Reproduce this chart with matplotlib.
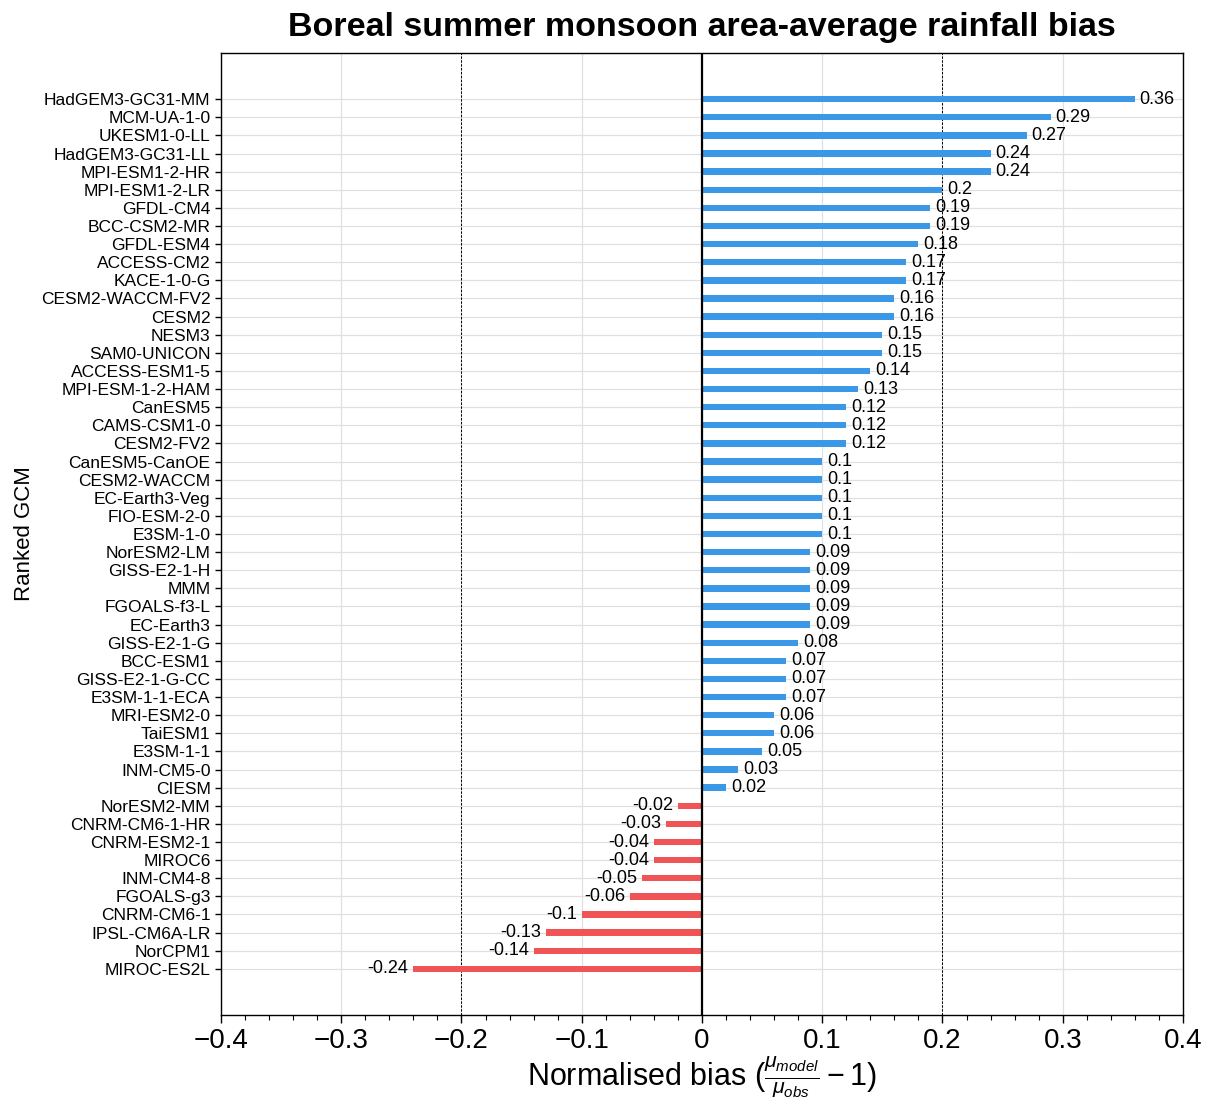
import numpy as np
import matplotlib
matplotlib.use('Agg')
import matplotlib.pyplot as plt
from matplotlib.ticker import MultipleLocator, FuncFormatter

# Model names, ranked from largest to smallest bias (top to bottom)
models = [
    'HadGEM3-GC31-MM', 'MCM-UA-1-0', 'UKESM1-0-LL', 'HadGEM3-GC31-LL',
    'MPI-ESM1-2-HR', 'MPI-ESM1-2-LR', 'GFDL-CM4', 'BCC-CSM2-MR', 'GFDL-ESM4',
    'ACCESS-CM2', 'KACE-1-0-G', 'CESM2-WACCM-FV2', 'CESM2', 'NESM3',
    'SAM0-UNICON', 'ACCESS-ESM1-5', 'MPI-ESM-1-2-HAM', 'CanESM5',
    'CAMS-CSM1-0', 'CESM2-FV2', 'CanESM5-CanOE', 'CESM2-WACCM',
    'EC-Earth3-Veg', 'FIO-ESM-2-0', 'E3SM-1-0', 'NorESM2-LM', 'GISS-E2-1-H',
    'MMM', 'FGOALS-f3-L', 'EC-Earth3', 'GISS-E2-1-G', 'BCC-ESM1',
    'GISS-E2-1-G-CC', 'E3SM-1-1-ECA', 'MRI-ESM2-0', 'TaiESM1', 'E3SM-1-1',
    'INM-CM5-0', 'CIESM', 'NorESM2-MM', 'CNRM-CM6-1-HR', 'CNRM-ESM2-1',
    'MIROC6', 'INM-CM4-8', 'FGOALS-g3', 'CNRM-CM6-1', 'IPSL-CM6A-LR',
    'NorCPM1', 'MIROC-ES2L',
]

# Normalised bias (mu_model / mu_obs - 1)
bias = [
    0.36, 0.29, 0.27, 0.24, 0.24, 0.20, 0.19, 0.19, 0.18, 0.17, 0.17,
    0.16, 0.16, 0.15, 0.15, 0.14, 0.13, 0.12, 0.12, 0.12, 0.10, 0.10,
    0.10, 0.10, 0.10, 0.09, 0.09, 0.09, 0.09, 0.09, 0.08, 0.07, 0.07,
    0.07, 0.06, 0.06, 0.05, 0.03, 0.02, -0.02, -0.03, -0.04, -0.04,
    -0.05, -0.06, -0.10, -0.13, -0.14, -0.24,
]

plt.rcParams['font.family'] = ['Liberation Sans', 'DejaVu Sans']
plt.rcParams['mathtext.fontset'] = 'custom'
plt.rcParams['mathtext.rm'] = 'Liberation Sans'
plt.rcParams['mathtext.it'] = 'Liberation Sans:italic'
plt.rcParams['mathtext.bf'] = 'Liberation Sans:bold'

pos_color = '#3a98e6'
neg_color = '#f05454'

n = len(models)
ypos = np.arange(n)[::-1]
colors = [pos_color if v > 0 else neg_color for v in bias]

fig = plt.figure(figsize=(12.07, 10.99), dpi=100)
ax = fig.add_axes([0.1831, 0.0764, 0.9801 - 0.1831, 0.9518 - 0.0764])

ax.barh(ypos, bias, height=0.35, color=colors, zorder=3)

# Value labels at the bar ends
for y, v in zip(ypos, bias):
    if v > 0:
        ax.text(v + 0.004, y, f'{v:g}', ha='left', va='center', fontsize=13, zorder=4)
    else:
        ax.text(v - 0.004, y, f'{v:g}', ha='right', va='center', fontsize=13, zorder=4)

# Reference lines
ax.axvline(0, color='black', linewidth=1.6, zorder=5)
ax.axvline(-0.2, color='black', linewidth=0.7, linestyle=(0, (2.5, 1.5)), zorder=2)
ax.axvline(0.2, color='black', linewidth=0.7, linestyle=(0, (2.5, 1.5)), zorder=2)

ax.set_xlim(-0.4, 0.4)
ax.set_ylim(-2.55, n - 1 + 2.55)
ax.set_yticks(ypos)
ax.set_yticklabels(models, fontsize=12.5)

ax.xaxis.set_major_locator(MultipleLocator(0.1))
ax.xaxis.set_minor_locator(MultipleLocator(0.02))
ax.xaxis.set_major_formatter(FuncFormatter(lambda x, p: f'{round(x, 2):g}'.replace('-', '\u2212')))
ax.tick_params(axis='x', which='major', labelsize=20, length=6, width=1)
ax.tick_params(axis='x', which='minor', length=3.5, width=0.8)
ax.tick_params(axis='y', length=4, width=1)

ax.grid(True, which='major', axis='both', color='#e0e0e0', linewidth=0.9, zorder=0)
ax.set_axisbelow(True)

for s in ax.spines.values():
    s.set_linewidth(1.0)

ax.set_xlabel(r'Normalised bias ($\frac{\mu_{model}}{\mu_{obs}} - 1$)', fontsize=22, labelpad=0)
ax.set_ylabel('Ranked GCM', fontsize=16, labelpad=4)
ax.set_title('Boreal summer monsoon area-average rainfall bias',
             fontsize=24.5, fontweight='bold', pad=12)

fig.savefig('out.png', dpi=100)
